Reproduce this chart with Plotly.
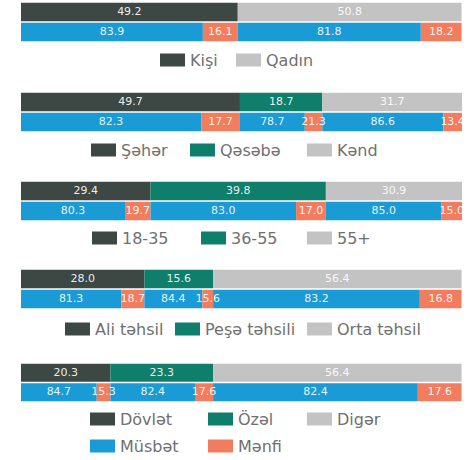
import plotly.graph_objects as go

# Colours
DARK = "#3d4845"
TEAL = "#0f7e6b"
LIGHT = "#c3c3c3"
POS = "#1b9bd5"
NEG = "#f27c5e"

# Data: share of each group (top row) and positive / negative split within it (bottom row)
sex_groups = ["Kişi", "Qadın"]
sex_share = [49.2, 50.8]
sex_pos = [83.9, 81.8]
sex_neg = [16.1, 18.2]

place_groups = ["Şəhər", "Qəsəbə", "Kənd"]
place_share = [49.7, 18.7, 31.7]
place_pos = [82.3, 78.7, 86.6]
place_neg = [17.7, 21.3, 13.4]

age_groups = ["18-35", "36-55", "55+"]
age_share = [29.4, 39.8, 30.9]
age_pos = [80.3, 83.0, 85.0]
age_neg = [19.7, 17.0, 15.0]

edu_groups = ["Ali təhsil", "Peşə təhsili", "Orta təhsil"]
edu_share = [28.0, 15.6, 56.4]
edu_pos = [81.3, 84.4, 83.2]
edu_neg = [18.7, 15.6, 16.8]

sector_groups = ["Dövlət", "Özəl", "Digər"]
sector_share = [20.3, 23.3, 56.4]
sector_pos = [84.7, 82.4, 82.4]
sector_neg = [15.3, 17.6, 17.6]

split_labels = ["Müsbət", "Mənfi"]

panels = [
    (sex_groups, sex_share, sex_pos, sex_neg, [DARK, LIGHT]),
    (place_groups, place_share, place_pos, place_neg, [DARK, TEAL, LIGHT]),
    (age_groups, age_share, age_pos, age_neg, [DARK, TEAL, LIGHT]),
    (edu_groups, edu_share, edu_pos, edu_neg, [DARK, TEAL, LIGHT]),
    (sector_groups, sector_share, sector_pos, sector_neg, [DARK, TEAL, LIGHT]),
]

# Layout (pixel positions on a 470x460 canvas)
W, H = 470, 460
PLOT_LEFT, PLOT_RIGHT = 21, 462
panel_rows = [(2, 42), (92, 132), (181, 221), (269, 309), (363, 402)]
legend_rows = [
    [(60, [160, 236])],
    [(150, [91, 190, 307])],
    [(238, [92, 201, 307])],
    [(329, [65, 175, 307])],
    [(419, [90, 208, 307]), (446, [90, 208])],
]
SW_W, SW_H = 25, 13

FONT = "DejaVu Sans"
LABEL_FONT = dict(family=FONT, size=11, color="rgba(255,255,255,0.92)")

fig = go.Figure()
layout_axes = {}

for i, (groups, share, pos, neg, colors) in enumerate(panels):
    yname = "y" if i == 0 else f"y{i + 1}"
    ykey = "yaxis" if i == 0 else f"yaxis{i + 1}"
    top_px, bot_px = panel_rows[i]
    layout_axes[ykey] = dict(
        domain=[1 - bot_px / H, 1 - top_px / H],
        range=[1.5, -0.5],
        visible=False,
        anchor="x",
        fixedrange=True,
    )

    seg_x, seg_y, seg_base, seg_color, seg_text = [], [], [], [], []
    # Top row: composition of the sample
    start = 0.0
    for s, c in zip(share, colors):
        seg_x.append(s); seg_y.append(0); seg_base.append(start)
        seg_color.append(c); seg_text.append(f"{s:.1f}")
        start += s
    # Bottom row: positive / negative split inside each group
    start = 0.0
    for s, p, n in zip(share, pos, neg):
        for v, c in ((p, POS), (n, NEG)):
            w = s * v / 100
            seg_x.append(w); seg_y.append(1); seg_base.append(start)
            seg_color.append(c); seg_text.append(f"{v:.1f}")
            start += w

    fig.add_trace(go.Bar(
        x=seg_x, y=seg_y, base=seg_base, orientation="h",
        xaxis="x", yaxis=yname, width=0.92,
        marker=dict(color=seg_color, line_width=0),
        showlegend=False, hoverinfo="skip",
    ))
    # Value labels in their own layer so no bar covers them
    fig.add_trace(go.Scatter(
        x=[b + w / 2 for b, w in zip(seg_base, seg_x)], y=seg_y,
        xaxis="x", yaxis=yname, mode="text", text=seg_text,
        textposition="middle center", textfont=LABEL_FONT,
        showlegend=False, hoverinfo="skip", cliponaxis=False,
    ))

# Legends drawn as swatches + labels
shapes = []
annotations = []
for i, (groups, share, pos, neg, colors) in enumerate(panels):
    entries = [list(zip(groups, colors))]
    if i == len(panels) - 1:
        entries.append(list(zip(split_labels, [POS, NEG])))
    for (yc, xs), items in zip(legend_rows[i], entries):
        for x0, (label, color) in zip(xs, items):
            shapes.append(dict(
                type="rect", xref="paper", yref="paper",
                x0=x0 / W, x1=(x0 + SW_W) / W,
                y0=1 - (yc + SW_H / 2) / H, y1=1 - (yc - SW_H / 2) / H,
                fillcolor=color, line_width=0, layer="above",
            ))
            annotations.append(dict(
                text=label, xref="paper", yref="paper",
                x=(x0 + SW_W + 3) / W, y=1 - yc / H,
                xanchor="left", yanchor="middle", showarrow=False,
                font=dict(family=FONT, size=16, color="#707070"),
            ))

fig.update_layout(
    width=W, height=H,
    margin=dict(l=0, r=0, t=0, b=0),
    paper_bgcolor="white", plot_bgcolor="white",
    barmode="overlay",
    xaxis=dict(domain=[PLOT_LEFT / W, PLOT_RIGHT / W], range=[0, 100.1],
               visible=False, fixedrange=True),
    shapes=shapes,
    annotations=annotations,
    **layout_axes,
)

fig.write_html("out.html", config={"displayModeBar": False})
